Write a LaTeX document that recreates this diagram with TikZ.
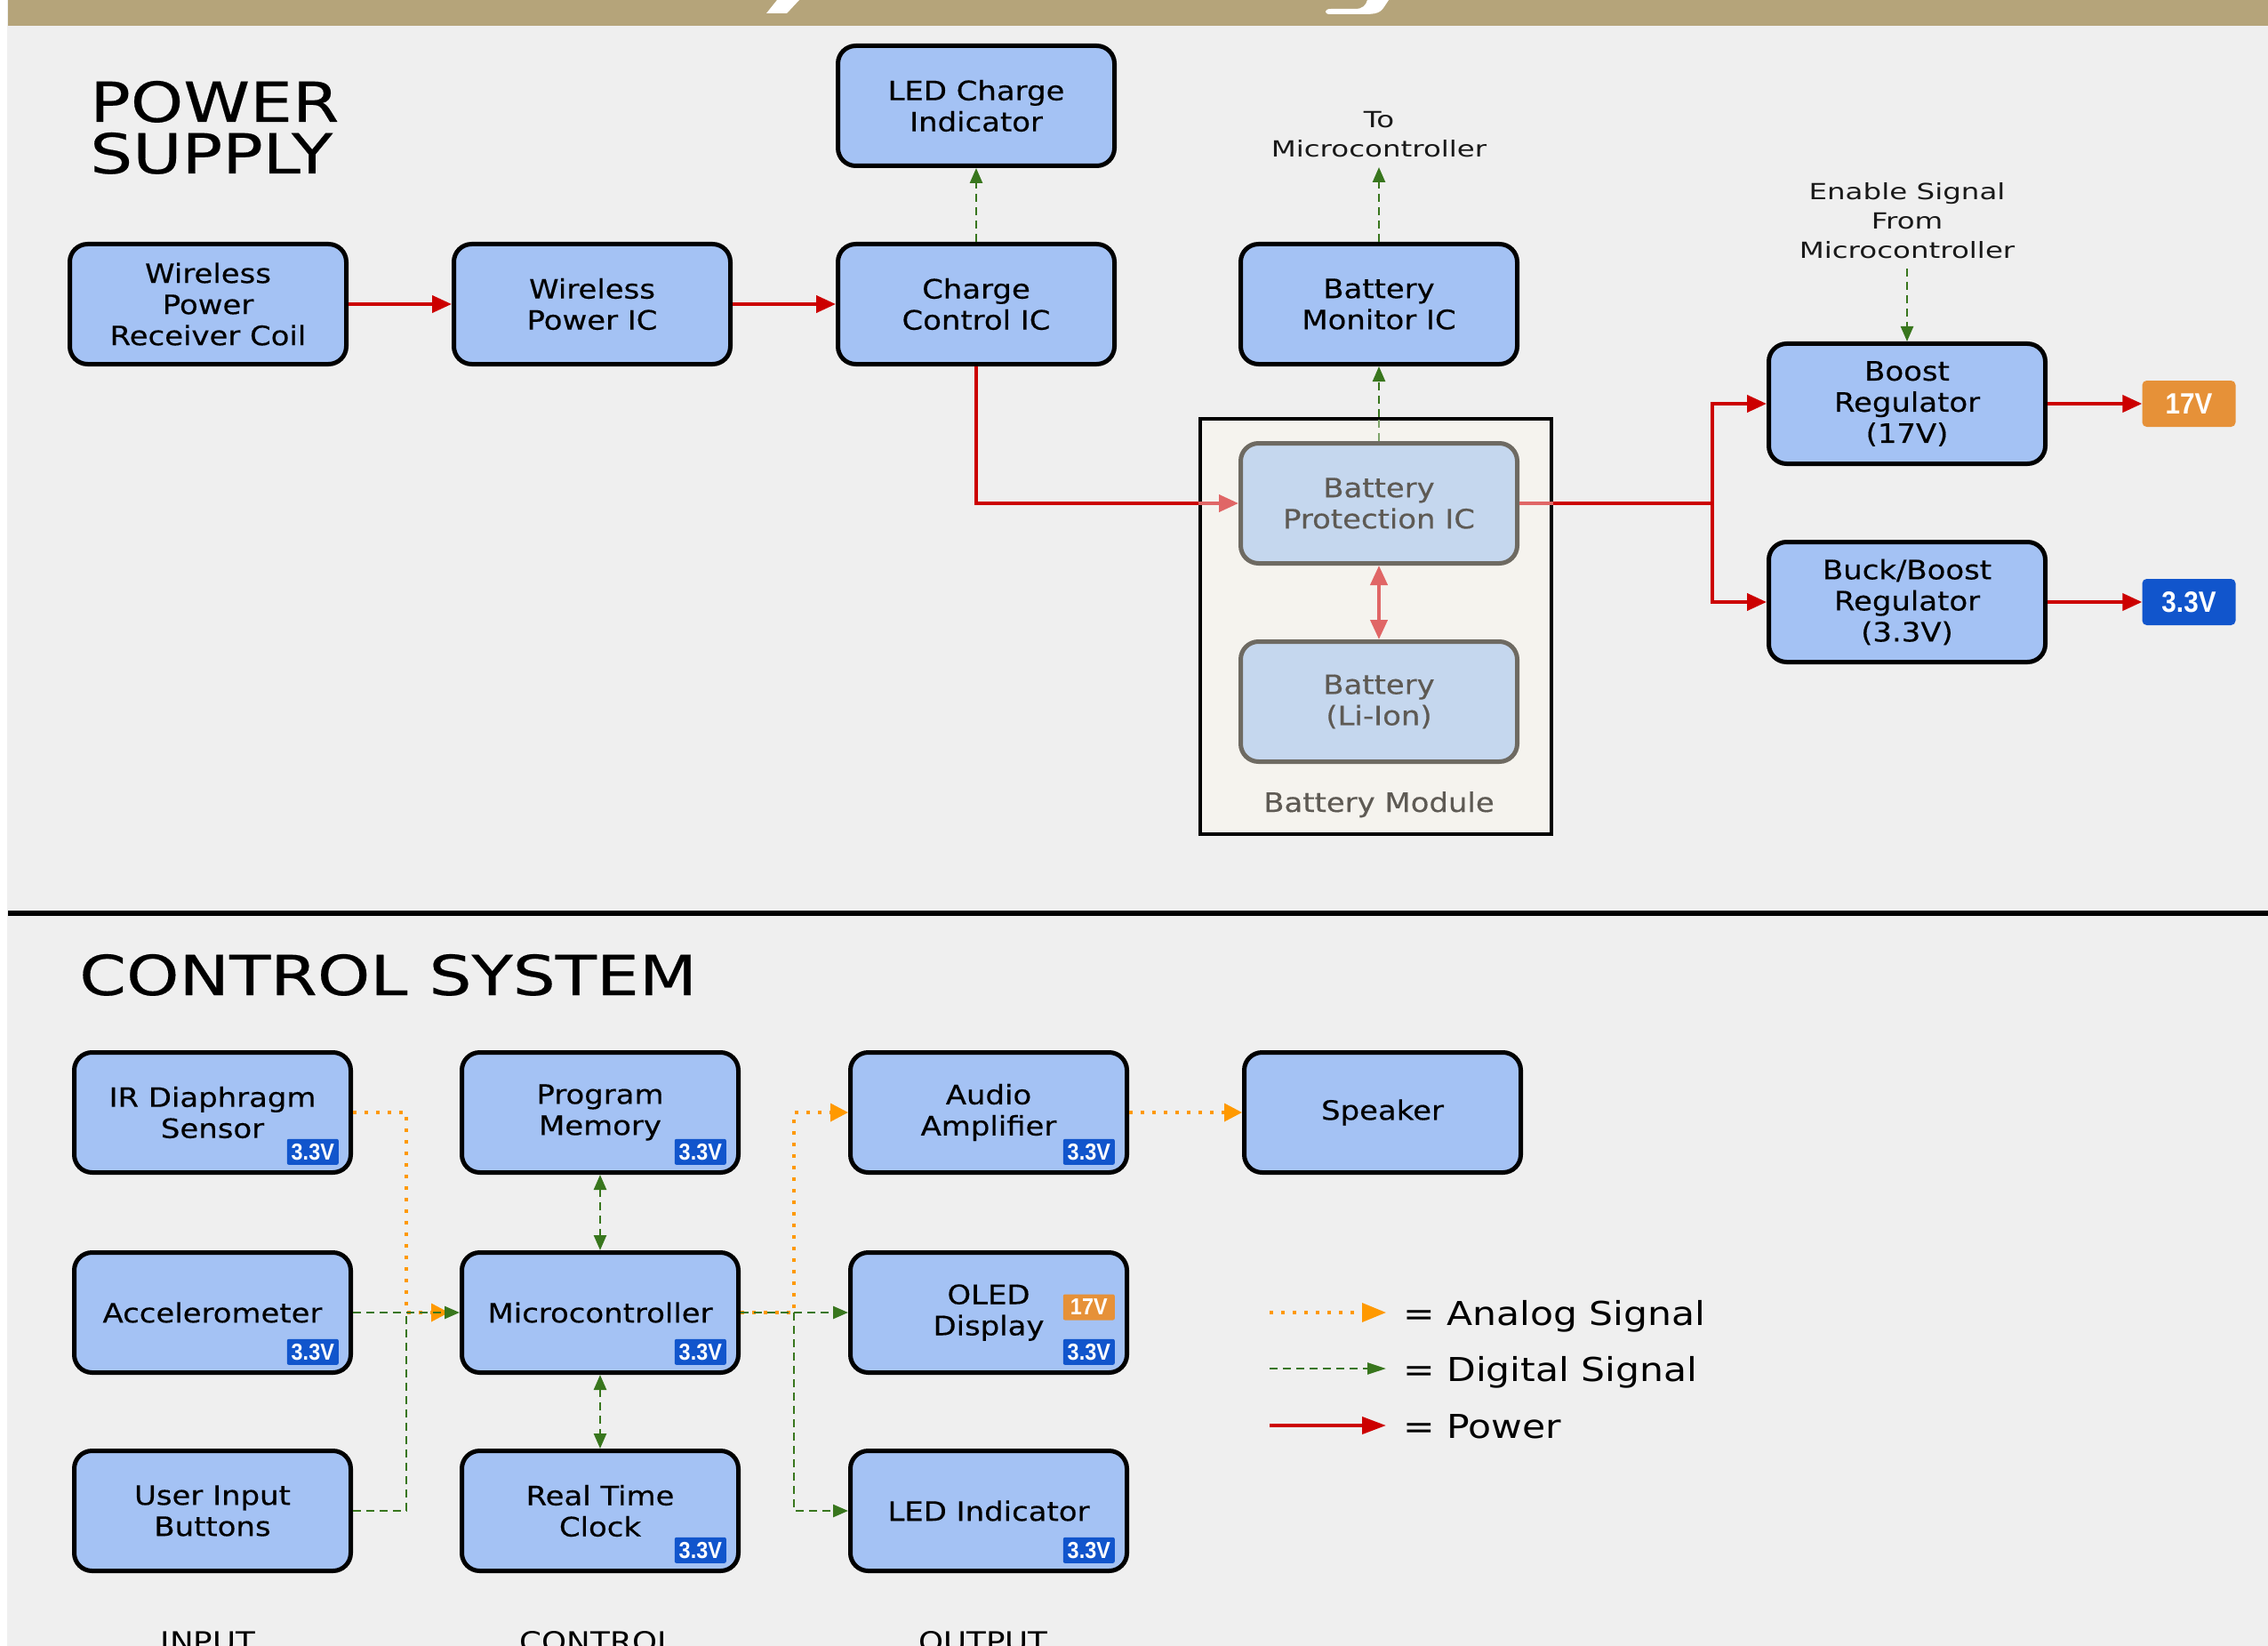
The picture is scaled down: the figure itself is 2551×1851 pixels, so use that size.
\documentclass[tikz,border=0pt]{standalone}
\usepackage{fontspec}
\setmainfont{DejaVu Sans}[FakeStretch=1.15]
\newfontfamily\boxfont{DejaVu Sans}[FakeStretch=1.13, FakeBold=0.35]
\newfontfamily\titlefont{DejaVu Sans}[FakeStretch=1.22, FakeBold=0.3]
\newfontfamily\lblfont{DejaVu Sans}[FakeStretch=1.3]
\newfontfamily\badgefont{Liberation Sans}[FakeStretch=0.9]
\usetikzlibrary{arrows.meta,calc}
\definecolor{bg}{HTML}{EFEFEF}
\definecolor{tanband}{HTML}{B5A47A}
\definecolor{boxblue}{HTML}{A4C2F4}
\definecolor{modblue}{HTML}{C5D7EE}
\definecolor{modgray}{HTML}{6E6A62}
\definecolor{modtext}{HTML}{5E5A54}
\definecolor{modfill}{HTML}{F5F3EE}
\definecolor{pred}{HTML}{CC0000}
\definecolor{pltred}{HTML}{E06666}
\definecolor{dgreen}{HTML}{38761D}
\definecolor{lgreen}{HTML}{7FA56A}
\definecolor{aorange}{HTML}{FF9900}
\definecolor{bblue}{HTML}{1155CC}
\definecolor{borange}{HTML}{E69138}
\tikzset{
 blk/.style={draw=black, line width=5pt, fill=boxblue, rounded corners=20pt, minimum width=311pt, minimum height=135pt, align=center, inner sep=0pt, font=\boxfont\fontsize{30}{35}\selectfont},
 modblk/.style={blk, draw=modgray, fill=modblue, text=modtext},
 smbadge/.style={fill=#1, text=white, minimum width=58pt, minimum height=29pt, inner sep=0pt, rounded corners=2pt, font=\badgefont\bfseries\fontsize{26}{26}\selectfont},
 bigbadge/.style={fill=#1, text=white, minimum width=105pt, minimum height=52pt, inner sep=0pt, rounded corners=5pt, font=\badgefont\bfseries\fontsize{33}{33}\selectfont},
 lbl/.style={align=center, inner sep=0pt, text=black!90, font=\lblfont\fontsize{25}{33}\selectfont},
 titletext/.style={inner sep=0pt, anchor=base west, font=\titlefont\fontsize{62}{62}\selectfont},
 legtext/.style={inner sep=0pt, anchor=base west, font=\fontsize{37}{37}\selectfont},
 bottomtext/.style={inner sep=0pt, anchor=base, font=\fontsize{31}{31}\selectfont},
 pwr/.style={color=pred, line width=4pt, -{Triangle[length=22pt,width=19pt]}},
 pwrlt/.style={color=pltred, line width=4pt, -{Triangle[length=22pt,width=19pt]}},
 modarr/.style={color=pltred, line width=4pt, {Triangle[length=22pt,width=19pt]}-{Triangle[length=22pt,width=19pt]}},
 dig/.style={color=dgreen, line width=2.5pt, dash pattern=on 9pt off 6pt, -{Triangle[length=17pt,width=14pt]}},
 digboth/.style={color=dgreen, line width=2.5pt, dash pattern=on 9pt off 6pt, {Triangle[length=17pt,width=14pt]}-{Triangle[length=17pt,width=14pt]}},
 diglt/.style={color=lgreen, line width=2.5pt, dash pattern=on 9pt off 6pt},
 ana/.style={color=aorange, line width=3.5pt, dash pattern=on 4pt off 9pt, -{Triangle[length=20pt,width=20pt]}},
}
\begin{document}
\begin{tikzpicture}[x=1pt,y=-1pt]
\useasboundingbox (0,0) rectangle (2551,1851);
\clip (0,0) rectangle (2551,1851);
% background
\fill[white] (0,0) rectangle (2551,1851);
\fill[bg] (8,0) rectangle (2551,1851);
\fill[tanband] (9,0) rectangle (2551,29);
% fragments of the cut-off white title
\fill[white] (874,0) -- (899,0) -- (885,15) -- (862,15) -- cycle;
\fill[white] (1538,0) -- (1562,0) -- (1556,9) .. controls (1551,16) and (1544,16) .. (1530,16) -- (1496,16) .. controls (1489,16) and (1489,10) .. (1497,10) -- (1524,10) .. controls (1533,10) and (1536,6) .. (1538,0) -- cycle;
% separator
\draw[line width=6pt] (9,1027) -- (2551,1027);

% ---------------- POWER SUPPLY ----------------
\node[titletext] (t1) at (101,137) {POWER};
\node[titletext] (t2) at (101,195) {SUPPLY};

\node[blk] (wprc) at (234,342) {Wireless\\Power\\Receiver Coil};
\node[blk] (wpic) at (666,342) {Wireless\\Power IC};
\node[blk] (ccic) at (1098,342) {Charge\\Control IC};
\node[blk] (ledc) at (1098,119) {LED Charge\\Indicator};
\node[blk] (bmic) at (1551,342) {Battery\\Monitor IC};

\node[draw=black, line width=4pt, fill=modfill, minimum width=395pt, minimum height=467pt, inner sep=0pt] (module) at (1547.5,704.5) {};
\node[modblk] (bpic) at (1551,566) {Battery\\Protection IC};
\node[modblk] (batt) at (1551,789) {Battery\\(Li-Ion)};
\node[anchor=base, inner sep=0pt, text=modtext, font=\boxfont\fontsize{30}{35}\selectfont] (modlbl) at (1551,913) {Battery Module};

\node[blk] (boost) at (2145,454) {Boost\\Regulator\\(17V)};
\node[blk] (buck) at (2145,677) {Buck/Boost\\Regulator\\(3.3V)};
\node[bigbadge=borange] (v17) at (2462,454) {17V};
\node[bigbadge=bblue] (v33) at (2462,677) {3.3V};

% power connectors
\draw[pwr] (wprc.east) -- (wpic.west);
\draw[pwr] (wpic.east) -- (ccic.west);
\coordinate (mL) at (module.west |- bpic.west);
\coordinate (mR) at (module.east |- bpic.east);
\draw[pwr,-] (ccic.south) |- (mL);
\draw[pwrlt] (mL) -- (bpic.west);
\draw[pwrlt,-] (bpic.east) -- (mR);
\coordinate (brx) at (1926,0);
\coordinate (br) at (bpic.east -| brx);
\draw[pwr,-] (mR) -- (br);
\draw[pwr] (br) |- (boost.west);
\draw[pwr] (br) |- (buck.west);
\draw[pwr] (boost.east) -- (v17.west);
\draw[pwr] (buck.east) -- (v33.west);
\draw[modarr] (bpic.south) -- (batt.north);

% digital connectors (power section)
\draw[dig] (ccic.north) -- (ledc.south);
\coordinate (tomc) at ([yshift=84pt]bmic.north);
\draw[dig] (bmic.north) -- (tomc);
\node[lbl, anchor=south] (tomcl) at ([yshift=11pt]tomc) {To\\Microcontroller};
\coordinate (mTop) at (bpic.north |- module.north);
\draw[diglt] (bpic.north) -- (mTop);
\draw[dig] (mTop) -- (bmic.south);
\coordinate (ens) at ([yshift=82pt]boost.north);
\node[lbl, anchor=south] (enl) at ([yshift=11pt]ens) {Enable Signal\\From\\Microcontroller};
\draw[dig] (ens) -- (boost.north);

% ---------------- CONTROL SYSTEM ----------------
\node[titletext] (t3) at (89,1119) {CONTROL SYSTEM};

\node[blk] (ir) at (239,1251) {IR Diaphragm\\Sensor};
\node[blk] (acc) at (239,1476) {Accelerometer};
\node[blk] (uib) at (239,1699) {User Input\\Buttons};
\node[blk] (pm) at (675,1251) {Program\\Memory};
\node[blk] (mcu) at (675,1476) {Microcontroller};
\node[blk] (rtc) at (675,1699) {Real Time\\Clock};
\node[blk] (amp) at (1112,1251) {Audio\\Amplifier};
\node[blk] (oled) at (1112,1476) {OLED\\Display};
\node[blk] (ledi) at (1112,1699) {LED Indicator};
\node[blk] (spk) at (1555,1251) {Speaker};

\foreach \n in {ir,acc,pm,mcu,rtc,amp,oled,ledi}{
  \node[smbadge=bblue, anchor=south east] (\n v) at ([xshift=-16pt,yshift=11pt]\n.south east) {3.3V};
}
\node[smbadge=borange, anchor=east] (oledvh) at ([xshift=-16pt,yshift=6pt]oled.east) {17V};

% control connectors
\coordinate (jLx) at (457,0);
\coordinate (jL) at (mcu.west -| jLx);
\coordinate (jRx) at (893,0);
\coordinate (jR) at (mcu.east -| jRx);
\draw[ana] (ir.east) -| (jL) -- ([xshift=-12pt]mcu.west);
\draw[dig,-] (uib.east) -| (jL);
\draw[dig] (acc.east) -- (mcu.west);
\draw[digboth] (pm.south) -- (mcu.north);
\draw[digboth] (mcu.south) -- (rtc.north);
\draw[ana] (mcu.east) -- (jR) |- (amp.west);
\draw[dig] (mcu.east) -- (oled.west);
\draw[dig] (jR) |- (ledi.west);
\draw[ana] (amp.east) -- (spk.west);

% legend
\coordinate (la1) at (1428,1476); \coordinate (la2) at (1559,1476);
\draw[ana,-{Triangle[length=27pt,width=21pt]}] (la1) -- (la2);
\node[legtext] (lat) at (1578,1490) {= Analog Signal};
\coordinate (ld1) at (1428,1539); \coordinate (ld2) at (1559,1539);
\draw[dig,-{Triangle[length=21pt,width=13pt]}] (ld1) -- (ld2);
\node[legtext] (ldt) at (1578,1553) {= Digital Signal};
\coordinate (lp1) at (1428,1603); \coordinate (lp2) at (1559,1603);
\draw[pwr,-{Triangle[length=27pt,width=19pt]}] (lp1) -- (lp2);
\node[legtext] (lpt) at (1578,1617) {= Power};

% bottom column labels (cut off by the page edge, as in the reference)
\node[bottomtext] (cin) at (234,1857) {INPUT};
\node[bottomtext] (cctl) at (672,1857) {CONTROL};
\node[bottomtext] (cout) at (1106,1857) {OUTPUT};
\end{tikzpicture}
\end{document}
